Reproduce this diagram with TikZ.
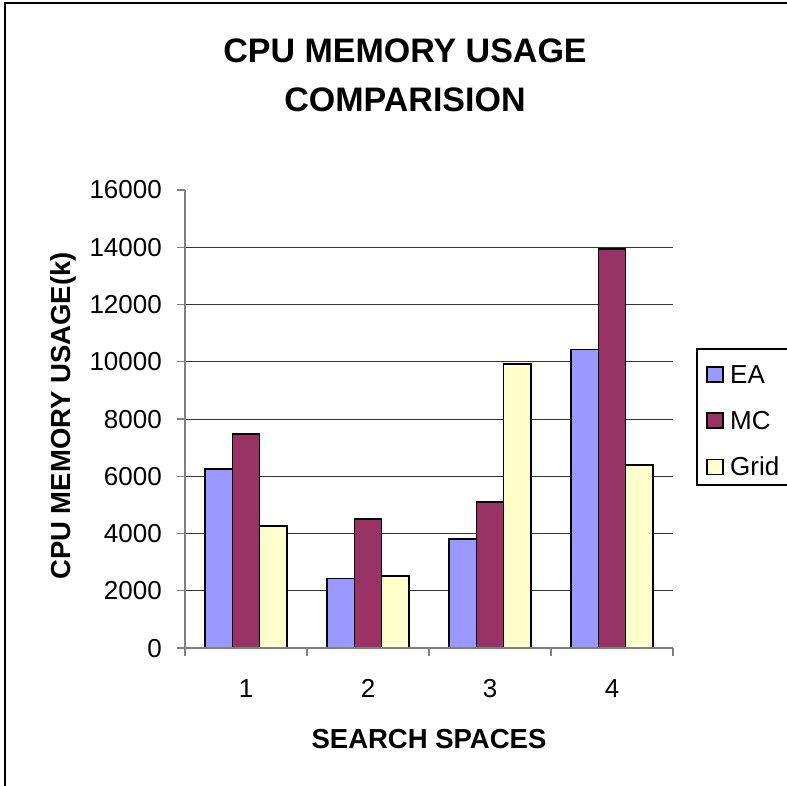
\documentclass[tikz,border=0pt]{standalone}
\usepackage{fontspec}
\setmainfont{Liberation Sans}
\definecolor{eacol}{HTML}{9999FF}
\definecolor{mccol}{HTML}{993366}
\definecolor{gridbar}{HTML}{FFFFCC}
\definecolor{axisgray}{HTML}{808080}
\definecolor{gridgray}{HTML}{333333}
\tikzset{
  frameline/.style={line width=2pt, black},
  gridrule/.style={line width=1pt, gridgray},
  axisrule/.style={line width=1.4pt, axisgray},
  barbox/.style={line width=1.8pt, black},
  keybox/.style={line width=1.2pt, black},
  ticktext/.style={inner sep=0pt, font=\fontsize{26}{30}\selectfont},
  axistitle/.style={inner sep=0pt, font=\fontsize{27.5}{32}\selectfont\bfseries},
  charttitle/.style={inner sep=0pt, font=\fontsize{34}{40}\selectfont\bfseries},
}
% one step of 2000 units on the value axis is 57.25 units of height
\def\stepht{57.25}
\begin{document}
\begin{tikzpicture}[x=1pt,y=-1pt]
\useasboundingbox (0,0) rectangle (787,786);
\clip (0,0) rectangle (787,786);
\fill[white] (0,0) rectangle (787,786);

% chart frame (open towards the right and bottom)
\draw[frameline] (5,800) -- (5,3) -- (800,3);

% title
\node[charttitle, anchor=base] (title1) at (405,63) {CPU MEMORY USAGE};
\node[charttitle, anchor=base] (title2) at (405,112) {COMPARISION};

% horizontal grid lines
\foreach \k in {1,...,7}
  \draw[gridrule] (185,{648-\k*\stepht}) -- (673,{648-\k*\stepht});

% bars: EA, MC, Grid per search space (values in units of 1000)
\foreach \i/\a/\b/\c in {0/6.25/7.48/4.27, 1/2.43/4.50/2.52, 2/3.82/5.11/9.91, 3/10.43/13.94/6.40} {
  \pgfmathsetmacro\xo{185+122*\i+20.33}
  \draw[barbox, fill=eacol]   (\xo,648) rectangle ({\xo+27.11},{648-\a*\stepht/2});
  \draw[barbox, fill=mccol]   ({\xo+27.11},648) rectangle ({\xo+54.22},{648-\b*\stepht/2});
  \draw[barbox, fill=gridbar] ({\xo+54.22},648) rectangle ({\xo+81.33},{648-\c*\stepht/2});
}

% axes and ticks
\draw[axisrule] (185,190) -- (185,648) -- (673,648);
\foreach \k in {0,...,8}
  \draw[axisrule] (177,{648-\k*\stepht}) -- (185,{648-\k*\stepht});
\foreach \k in {0,...,4}
  \draw[axisrule] ({185+122*\k},648) -- ({185+122*\k},656);

% value labels
\foreach \k in {0,...,8} {
  \pgfmathtruncatemacro\val{2000*\k}
  \node[ticktext, anchor=base east] (yl\k) at (162,{657-\k*\stepht}) {\val};
}

% category labels
\foreach \k in {1,...,4}
  \node[ticktext, anchor=base] (xl\k) at ({185+122*\k-61},697) {\k};

% axis titles
\node[axistitle, anchor=base] (xtitle) at (429,748) {SEARCH SPACES};
\node[axistitle, anchor=base, rotate=90] (ytitle) at (70,416) {CPU MEMORY USAGE(k)};

% legend
\draw[keybox] (697,349) rectangle (800,485);
\foreach \n/\col/\lab/\yy in {ea/eacol/EA/374.5, mc/mccol/MC/420.5, grid/gridbar/Grid/467} {
  \draw[keybox, fill=\col] (707,{\yy-7.5}) rectangle (723,{\yy+7.5});
  \node[ticktext, anchor=base west] (key\n) at (730,{\yy+8.5}) {\lab};
}
\end{tikzpicture}
\end{document}
